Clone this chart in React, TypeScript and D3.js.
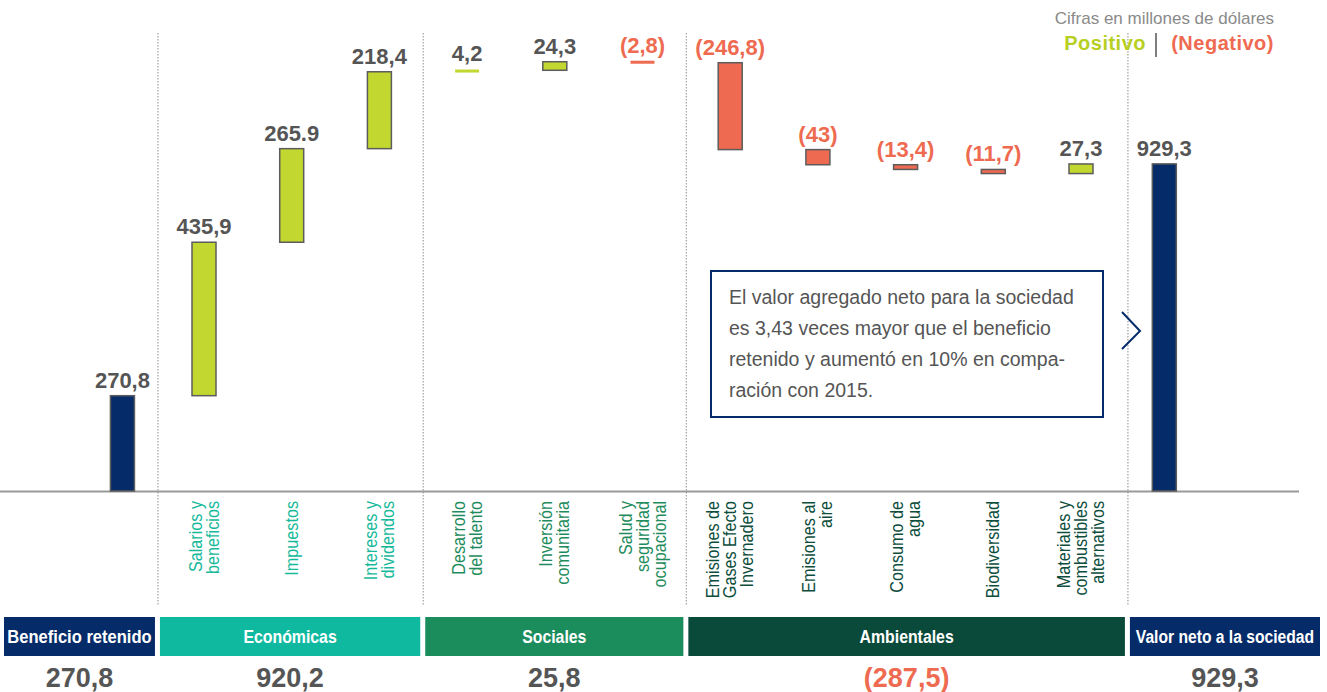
import React from "react";
import * as d3 from "d3";

// ---------- DATA ----------
const categories = [
  "Beneficio retenido",
  "Salarios y beneficios",
  "Impuestos",
  "Intereses y dividendos",
  "Desarrollo del talento",
  "Inversión comunitaria",
  "Salud y seguridad ocupacional",
  "Emisiones de Gases Efecto Invernadero",
  "Emisiones al aire",
  "Consumo de agua",
  "Biodiversidad",
  "Materiales y combustibles alternativos",
  "Valor neto a la sociedad",
];
const axisLabelLines: string[][] = [
  [],
  ["Salarios y", "beneficios"],
  ["Impuestos"],
  ["Intereses y", "dividendos"],
  ["Desarrollo", "del talento"],
  ["Inversión", "comunitaria"],
  ["Salud y", "seguridad", "ocupacional"],
  ["Emisiones de", "Gases Efecto", "Invernadero"],
  ["Emisiones al", "aire"],
  ["Consumo de", "agua"],
  ["Biodiversidad"],
  ["Materiales y", "combustibles", "alternativos"],
  [],
];
const values = [270.8, 435.9, 265.9, 218.4, 4.2, 24.3, -2.8, -246.8, -43, -13.4, -11.7, 27.3, 929.3];
const isTotal = [true, false, false, false, false, false, false, false, false, false, false, false, true];
const valueLabels = ["270,8", "435,9", "265.9", "218,4", "4,2", "24,3", "(2,8)", "(246,8)", "(43)", "(13,4)", "(11,7)", "27,3", "929,3"];
const groupOf = ["ret", "eco", "eco", "eco", "soc", "soc", "soc", "amb", "amb", "amb", "amb", "amb", "tot"];

const groups = ["ret", "eco", "soc", "amb", "tot"];
const groupNames = ["Beneficio retenido", "Económicas", "Sociales", "Ambientales", "Valor neto a la sociedad"];
const groupTotals = ["270,8", "920,2", "25,8", "(287,5)", "929,3"];
const groupTotalNegative = [false, false, false, true, false];

const noteLines = [
  "El valor agregado neto para la sociedad",
  "es 3,43 veces mayor que el beneficio",
  "retenido y aumentó en 10% en compa-",
  "ración con 2015.",
];

// ---------- STYLE ----------
const NAVY = "#062b69";
const LIME = "#c2d72f";
const RED = "#ee6a50";
const GRAY = "#555555";
const groupColor: Record<string, string> = {
  ret: NAVY,
  eco: "#0fb9a0",
  soc: "#1b8c5c",
  amb: "#0a4a3a",
  tot: NAVY,
};
const labelColor: Record<string, string> = {
  ret: NAVY,
  eco: "#17b99b",
  soc: "#1f8c5d",
  amb: "#0d4d3c",
  tot: NAVY,
};
const FONT = "'Liberation Sans', Arial, sans-serif";

export default function App() {
  const W = 1327;
  const H = 692;
  const baseY = 491;

  // middle (flow) categories on a point scale; totals sit just outside it
  const mid = categories.slice(1, -1);
  const xMid = d3.scalePoint<string>().domain(mid).range([204, 1081]);
  const step = xMid.step();
  const xPos = (i: number) =>
    i === 0 ? (xMid(mid[0]) as number) - step * 0.93 : i === categories.length - 1 ? (xMid(mid[mid.length - 1]) as number) + step * 0.95 : (xMid(categories[i]) as number);

  const y = d3.scaleLinear().domain([0, 1300]).range([baseY, baseY - 1300 * 0.352]);
  const barW = 24;

  // waterfall
  let cum = 0;
  const bars = categories.map((c, i) => {
    const v = values[i];
    let from: number, to: number;
    if (isTotal[i]) {
      from = 0;
      to = v;
      cum = v;
    } else {
      from = cum;
      to = cum + v;
      cum = to;
    }
    return { c, i, v, from, to };
  });

  // separators between groups
  const seps = [
    xPos(1) - step * 0.525,
    (xPos(3) + xPos(4)) / 2,
    (xPos(6) + xPos(7)) / 2,
    xPos(11) + step * 0.535,
  ];
  const boxEdges = [4, ...seps, 1320];

  return (
    <svg width={W} height={H} style={{ display: "block", position: "absolute", left: 0, top: 0 }} fontFamily={FONT}>
      <rect width={W} height={H} fill="#fff" />

      {/* dotted separators */}
      {seps.map((sx, k) => (
        <line key={k} x1={sx} x2={sx} y1={33} y2={605} stroke="#a8a8a8" strokeWidth={1.3} strokeDasharray="1.5,1.5" />
      ))}

      {/* baseline */}
      <line x1={0} x2={1299} y1={baseY + 0.5} y2={baseY + 0.5} stroke="#9a9a9a" strokeWidth={2} />

      {/* bars */}
      {bars.map((b) => {
        const cx = xPos(b.i);
        const yTop = y(Math.max(b.from, b.to));
        const yBot = y(Math.min(b.from, b.to));
        const h = yBot - yTop;
        const fill = isTotal[b.i] ? NAVY : b.v >= 0 ? LIME : RED;
        const tiny = h < 3;
        return (
          <g key={b.c}>
            {tiny ? (
              <rect x={cx - barW / 2} y={yTop - 1.5 + h / 2} width={barW} height={3} fill={fill} />
            ) : (
              <rect x={cx - barW / 2} y={yTop} width={barW} height={h} fill={fill} stroke="#5c5c5c" strokeWidth={1.5} />
            )}
            <text
              x={cx}
              y={yTop - (tiny ? 9 : 8)}
              textAnchor="middle"
              fontSize={22}
              fontWeight={700}
              fill={b.v < 0 ? RED : GRAY}
            >
              {valueLabels[b.i]}
            </text>
          </g>
        );
      })}

      {/* rotated category labels */}
      {categories.map((c, i) => {
        const lines = axisLabelLines[i];
        if (!lines.length) return null;
        const cx = xPos(i);
        const lh = 17;
        const x0 = cx - ((lines.length - 1) * lh) / 2 + 6;
        return (
          <g key={"l" + c}>
            {lines.map((ln, k) => (
              <text
                key={k}
                transform={`translate(${x0 + k * lh},${501}) rotate(-90) scale(0.9,1)`}
                textAnchor="end"
                fontSize={18}
                fill={labelColor[groupOf[i]]}
              >
                {ln}
              </text>
            ))}
          </g>
        );
      })}

      {/* annotation box */}
      <rect x={711} y={271} width={392} height={146} fill="#fff" stroke={NAVY} strokeWidth={2} />
      {noteLines.map((t, k) => (
        <text key={k} x={729} y={304 + k * 31} fontSize={19.5} fill={GRAY}>
          {t}
        </text>
      ))}
      <polyline points="1122,312 1140,331 1122,349" fill="none" stroke={NAVY} strokeWidth={2} />

      {/* top-right legend */}
      <text x={1274} y={24} textAnchor="end" fontSize={17} fill="#8a8a8a">
        Cifras en millones de dólares
      </text>
      <text x={1146} y={50} textAnchor="end" fontSize={20} fontWeight={700} fill="#b7cf22" letterSpacing={0.5}>
        Positivo
      </text>
      <line x1={1156} x2={1156} y1={33} y2={57} stroke={GRAY} strokeWidth={1.5} />
      <text x={1274} y={50} textAnchor="end" fontSize={20} fontWeight={700} fill={RED} letterSpacing={0.5}>
        (Negativo)
      </text>

      {/* footer group boxes */}
      {groups.map((g, k) => {
        const x0 = boxEdges[k] + (k === 0 ? 0 : 2);
        const x1 = boxEdges[k + 1] - (k === groups.length - 1 ? 0 : 3);
        const cx = (x0 + x1) / 2;
        const sx = [0.92, 0.88, 0.88, 0.88, 0.87][k];
        return (
          <g key={g}>
            <rect x={x0} y={617} width={x1 - x0} height={39} fill={groupColor[g]} />
            <text
              transform={`translate(${cx},643) scale(${sx},1)`}
              textAnchor="middle"
              fontSize={18}
              fontWeight={700}
              fill="#fff"
            >
              {groupNames[k]}
            </text>
            <text
              x={cx}
              y={687}
              textAnchor="middle"
              fontSize={27}
              fontWeight={700}
              fill={groupTotalNegative[k] ? RED : GRAY}
            >
              {groupTotals[k]}
            </text>
          </g>
        );
      })}
    </svg>
  );
}
